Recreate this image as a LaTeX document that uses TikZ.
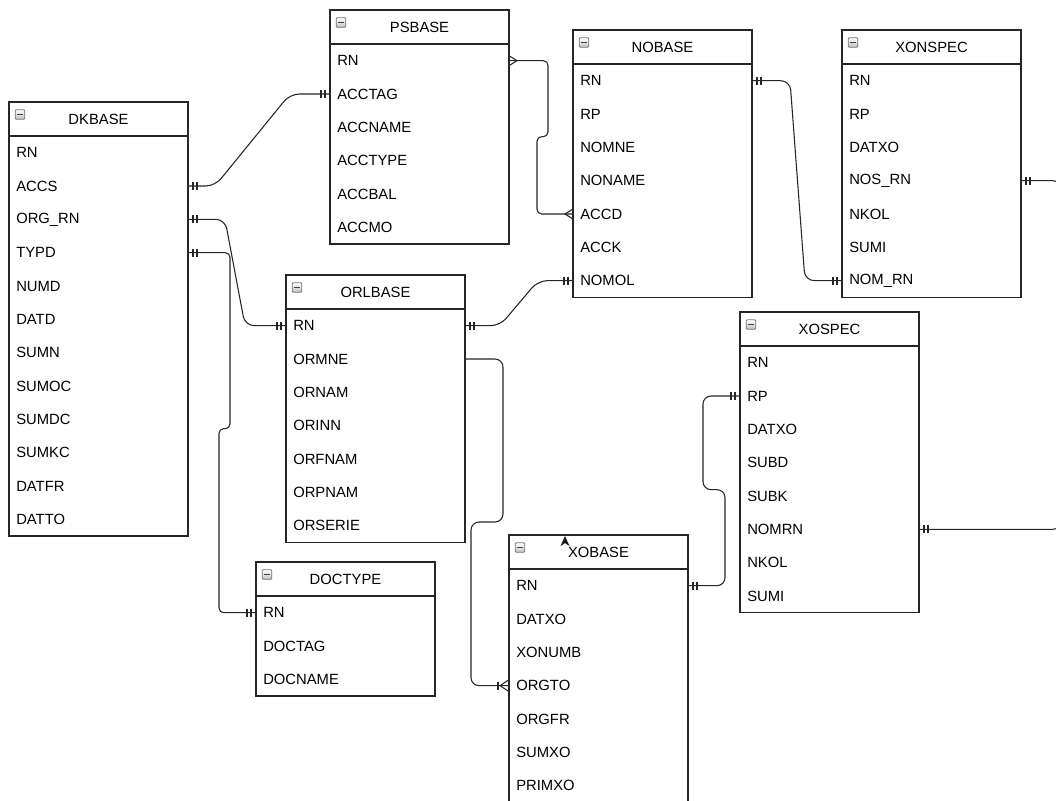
\documentclass[tikz,border=0pt]{standalone}
\usepackage{fontspec}
\setmainfont{Liberation Sans}
\usetikzlibrary{calc}
\tikzset{
  tablebox/.style={draw=black!85, line width=0.8pt, anchor=north west, minimum width=179*0.75pt, inner sep=0pt, outer sep=0pt},
  rowtext/.style={anchor=west, inner sep=0pt, font=\fontsize{11.1}{13}\selectfont, text=black},
  titletext/.style={inner sep=0pt, font=\fontsize{11.1}{13}\selectfont, text=black},
  iconbox/.style={draw=black!55, top color=white, bottom color=black!25, rounded corners=0.8pt, minimum size=7.2pt, inner sep=0pt, line width=0.6pt,
    path picture={\draw[black!75, line width=1pt] ([xshift=1.6pt]path picture bounding box.west) -- ([xshift=-1.6pt]path picture bounding box.east);}},
  conn/.style={draw=black!85, line width=0.8pt, rounded corners=7pt},
  tick/.style={draw=black!85, line width=0.8pt},
}
\newcommand\ertable[6]{%
  \node[tablebox, minimum height={(34+#5*33.333)*0.75pt}] (#1) at (#3,#4) {};
  \draw[black!85, line width=0.8pt] ($(#1.north west)+(0,34)$) -- ($(#1.north east)+(0,34)$);
  \node[titletext] (#1-title) at ($(#1.north)+(0,17)$) {#2};
  \node[iconbox] (#1-icon) at ($(#1.north west)+(11,12.5)$) {};
  \foreach \rn/\rt [count=\i] in {#6} {
    \node[rowtext] (#1-\rn) at ($(#1.north west)+(7,{34+(\i-0.5)*33.333})$) {\rt};
  }
}
\newcommand\mone[2]{\draw[tick] ($(#1)+(#2*5,-4)$) -- ++(0,8) ($(#1)+(#2*9,-4)$) -- ++(0,8);}
\newcommand\mmany[2]{\draw[tick] ($(#1)+(0,-5)$) -- ($(#1)+(#2*8,0)$) -- ($(#1)+(0,5)$);}
\newcommand\monemany[2]{\draw[tick] ($(#1)+(0,-6)$) -- ($(#1)+(#2*9,0)$) -- ($(#1)+(0,6)$); \draw[tick] ($(#1)+(#2*11,-4)$) -- ++(0,8);}
\begin{document}
\begin{tikzpicture}[x=0.75pt, y=-0.75pt]
\useasboundingbox (0,0) rectangle (1056,800);
% tables
\ertable{dk}{DKBASE}{9}{102}{12}{RN/RN, ACCS/ACCS, ORGRN/ORG\_RN, TYPD/TYPD, NUMD/NUMD, DATD/DATD, SUMN/SUMN, SUMOC/SUMOC, SUMDC/SUMDC, SUMKC/SUMKC, DATFR/DATFR, DATTO/DATTO}
\ertable{ps}{PSBASE}{330}{10}{6}{RN/RN, ACCTAG/ACCTAG, ACCNAME/ACCNAME, ACCTYPE/ACCTYPE, ACCBAL/ACCBAL, ACCMO/ACCMO}
\ertable{no}{NOBASE}{573}{30}{7}{RN/RN, RP/RP, NOMNE/NOMNE, NONAME/NONAME, ACCD/ACCD, ACCK/ACCK, NOMOL/NOMOL}
\ertable{xon}{XONSPEC}{842}{30}{7}{RN/RN, RP/RP, DATXO/DATXO, NOSRN/NOS\_RN, NKOL/NKOL, SUMI/SUMI, NOMRN/NOM\_RN}
\ertable{orl}{ORLBASE}{286}{275}{7}{RN/RN, ORMNE/ORMNE, ORNAM/ORNAM, ORINN/ORINN, ORFNAM/ORFNAM, ORPNAM/ORPNAM, ORSERIE/ORSERIE}
\ertable{xos}{XOSPEC}{740}{312}{8}{RN/RN, RP/RP, DATXO/DATXO, SUBD/SUBD, SUBK/SUBK, NOMRN/NOMRN, NKOL/NKOL, SUMI/SUMI}
\ertable{xob}{XOBASE}{509}{535}{7}{RN/RN, DATXO/DATXO, XONUMB/XONUMB, ORGTO/ORGTO, ORGFR/ORGFR, SUMXO/SUMXO, PRIMXO/PRIMXO}
\ertable{doc}{DOCTYPE}{256}{562}{3}{RN/RN, DOCTAG/DOCTAG, DOCNAME/DOCNAME}
% connector end points
\coordinate (a1) at (dk.east |- dk-ACCS);   \coordinate (b1) at (ps.west |- ps-ACCTAG);
\coordinate (a2) at (ps.east |- ps-RN);     \coordinate (b2) at (no.west |- no-ACCD);
\coordinate (a3) at (no.east |- no-RN);     \coordinate (b3) at (xon.west |- xon-NOMRN);
\coordinate (a4) at (dk.east |- dk-ORGRN);  \coordinate (b4) at (orl.west |- orl-RN);
\coordinate (a5) at (dk.east |- dk-TYPD);   \coordinate (b5) at (doc.west |- doc-RN);
\coordinate (a6) at (orl.east |- orl-RN);   \coordinate (b6) at (no.west |- no-NOMOL);
\coordinate (a7) at (orl.east |- orl-ORMNE); \coordinate (b7) at (xob.west |- xob-ORGTO);
\coordinate (a8) at (xob.east |- xob-RN);   \coordinate (b8) at (xos.west |- xos-RP);
\coordinate (a9) at (xon.east |- xon-NOSRN); \coordinate (b9) at (xos.east |- xos-NOMRN);
% connectors
\draw[conn] (a1) -- ++(27,0) -- ($(b1)+(-40,0)$) -- (b1);
\draw[conn, rounded corners=3.5pt] (a2) -- ++(39,0) -- ++(0,76) -- ++(-11,0) |- (b2);
\draw[conn] (a3) -- ++(38,0) -- ($(b3)+(-37,0)$) -- (b3);
\draw[conn] (a4) -- ++(37,0) -- ($(b4)+(-41,0)$) -- (b4);
\draw[conn, rounded corners=3.5pt] (a5) -- ++(42,0) -- ++(0,176) -- ++(-11,0) |- (b5);
\draw[conn] (a6) -- ++(35,0) -- ($(b6)+(-35,0)$) -- (b6);
\draw[conn, rounded corners=6pt] (a7) -- ++(38,0) -- ++(0,163) -- ++(-32,0) |- (b7);
\draw[conn, rounded corners=6pt] (a8) -- ++(37,0) -- ++(0,-96) -- ++(-22,0) |- (b8);
\draw[conn] (a9) -- ++(41,0) |- (b9);
% end markers
\mone{a1}{1} \mone{b1}{-1}
\mmany{a2}{1} \mmany{b2}{-1}
\mone{a3}{1} \mone{b3}{-1}
\mone{a4}{1} \mone{b4}{-1}
\mone{a5}{1} \mone{b5}{-1}
\mone{a6}{1} \mone{b6}{-1}
\monemany{b7}{-1}
\mone{a8}{1} \mone{b8}{-1}
\mone{a9}{1} \mone{b9}{1}
% stray arrowhead on XOBASE
\coordinate (arr) at ($(xob.north west)+(56,1)$);
\fill[black!90] (arr) -- ++(4.5,10) -- ++(-4.5,-3) -- ++(-4.5,3) -- cycle;
\end{tikzpicture}
\end{document}
